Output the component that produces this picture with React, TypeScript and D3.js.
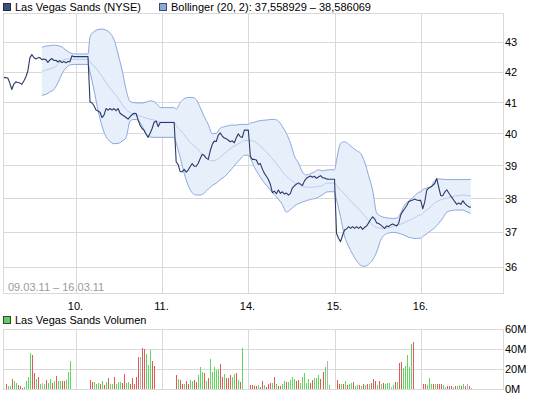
import React from "react";
import * as d3 from "d3";

const W = 545;
const H = 398;
const FONT = "'Liberation Sans', Arial, sans-serif";

// time axis: each trading day is split into 43 slots (~10 min each)
const SLOTS_PER_DAY = 43;
const X_DOMAIN = [6.6, 256.3]; // slot units (09.03 afternoon .. end of 16.03)
const TICK_DAYS = [1, 2, 3, 4, 5];
const TICK_LABELS = ["10.", "11.", "14.", "15.", "16."];
const Y_TICKS = [36, 37, 38, 39, 40, 41, 42, 43];
const Y_DOMAIN = [35.24, 43.98];
const VOL_TICKS = [0, 20, 40, 60];
const VOL_DOMAIN = [0, 60];

// ---------- price (close per slot) ----------
const PRICE_FIRST_SLOT = [7, 7, 7, 1, 1, 1];
const PRICE_09 = [41.82, 41.82, 41.81, 41.64, 41.43, 41.61, 41.68, 41.66, 41.64, 41.6, 41.71, 41.84, 42.04, 42.48, 42.59, 42.49, 42.44, 42.48, 42.49, 42.42, 42.44, 42.42, 42.33, 42.41, 42.46, 42.39, 42.4, 42.34, 42.39, 42.32, 42.36, 42.31, 42.36, 42.35, 42.55, 42.52];
const PRICE_10 = [41.03, 40.99, 40.9, 40.76, 40.73, 40.69, 40.52, 40.6, 40.81, 40.76, 40.81, 40.76, 40.81, 40.74, 40.81, 40.66, 40.61, 40.57, 40.52, 40.47, 40.55, 40.61, 40.66, 40.65, 40.45, 40.27, 40.17, 40.11, 39.99, 39.89, 40.02, 40.17, 40.37, 40.41, 40.23, 40.36];
const PRICE_11 = [39.12, 39.04, 38.82, 38.82, 38.89, 38.81, 38.87, 38.98, 39.07, 38.99, 38.99, 39.08, 39.23, 39.36, 39.32, 39.24, 39.2, 39.47, 39.67, 39.77, 39.76, 39.96, 40.03, 39.93, 39.87, 39.85, 39.8, 39.75, 39.78, 39.72, 39.88, 40.0, 39.91, 39.89, 40.12];
const PRICE_14 = [39.3, 39.2, 39.2, 39.18, 39.04, 39.07, 38.9, 38.77, 38.68, 38.58, 38.43, 38.18, 38.23, 38.15, 38.26, 38.16, 38.21, 38.14, 38.17, 38.11, 38.16, 38.33, 38.39, 38.44, 38.48, 38.44, 38.4, 38.54, 38.62, 38.66, 38.69, 38.65, 38.68, 38.62, 38.66, 38.7, 38.64, 38.63, 38.6, 38.59];
const PRICE_15 = [36.97, 36.83, 36.73, 36.91, 37.07, 37.1, 37.17, 37.12, 37.17, 37.12, 37.17, 37.12, 37.17, 37.09, 37.15, 37.19, 37.28, 37.38, 37.46, 37.4, 37.28, 37.26, 37.22, 37.17, 37.12, 37.19, 37.17, 37.22, 37.25, 37.22, 37.19, 37.27, 37.51, 37.62, 37.7, 37.79, 37.91, 37.94, 37.96, 37.99, 37.96, 37.95];
const PRICE_16 = [37.7, 37.9, 38.26, 38.32, 38.35, 38.4, 38.46, 38.61, 38.34, 38.09, 38.09, 38.2, 38.27, 38.17, 38.08, 38.0, 37.91, 37.83, 37.87, 37.83, 37.94, 37.86, 37.8, 37.76, 37.74];
const PRICE_DAYS = [PRICE_09, PRICE_10, PRICE_11, PRICE_14, PRICE_15, PRICE_16];

// ---------- Bollinger (20, 2), every second slot ----------
const BAND_FIRST_SLOT = [26, 7, 7, 1, 1, 1];
const UPPER_09 = [42.83, 42.88, 42.89, 42.91, 42.89, 42.85, 42.74, 42.65, 42.61];
const MIDDLE_09 = [42.03, 42.07, 42.11, 42.16, 42.26, 42.39, 42.44, 42.44, 42.43];
const LOWER_09 = [41.24, 41.27, 41.35, 41.43, 41.65, 41.94, 42.14, 42.24, 42.26];
const UPPER_10 = [43.19, 43.37, 43.44, 43.46, 43.42, 43.32, 43.1, 42.61, 42.07, 41.43, 41.04, 41.0, 40.99, 40.99, 41.02, 41.06, 41.03, 40.91, 40.84];
const MIDDLE_10 = [42.34, 42.21, 42.04, 41.86, 41.66, 41.48, 41.31, 41.15, 40.95, 40.78, 40.68, 40.62, 40.58, 40.55, 40.5, 40.47, 40.44, 40.39, 40.38];
const LOWER_10 = [42.01, 41.41, 40.76, 40.25, 39.91, 39.76, 39.69, 39.7, 39.77, 39.88, 40.41, 40.46, 40.44, 40.25, 40.01, 39.9, 39.89, 39.89, 39.89];
const UPPER_11 = [40.79, 41.0, 41.13, 41.17, 41.17, 41.1, 40.84, 40.55, 40.3, 40.01, 40.02, 40.18, 40.23, 40.26, 40.28, 40.28, 40.3, 40.3];
const MIDDLE_11 = [40.26, 40.12, 39.98, 39.8, 39.66, 39.57, 39.43, 39.3, 39.19, 39.16, 39.18, 39.27, 39.38, 39.49, 39.58, 39.65, 39.72, 39.79];
const LOWER_11 = [39.71, 39.26, 38.77, 38.4, 38.18, 38.11, 38.11, 38.17, 38.29, 38.4, 38.47, 38.58, 38.66, 38.79, 38.93, 39.08, 39.21, 39.33];
const UPPER_14 = [40.34, 40.37, 40.41, 40.43, 40.44, 40.46, 40.46, 40.41, 40.23, 40.01, 39.71, 39.3, 39.09, 38.81, 38.72, 38.76, 38.82, 38.88, 38.85, 38.87, 38.88];
const MIDDLE_14 = [39.79, 39.76, 39.68, 39.55, 39.43, 39.29, 39.15, 38.99, 38.82, 38.68, 38.58, 38.49, 38.43, 38.36, 38.35, 38.34, 38.35, 38.37, 38.4, 38.47, 38.47];
const LOWER_14 = [39.24, 38.96, 38.75, 38.56, 38.41, 38.26, 38.12, 37.99, 37.82, 37.6, 37.67, 37.78, 37.85, 37.9, 37.94, 37.98, 38.0, 38.05, 38.12, 38.2, 38.21];
const UPPER_15 = [39.18, 39.7, 39.75, 39.68, 39.57, 39.47, 39.39, 39.12, 38.7, 38.26, 37.58, 37.48, 37.44, 37.42, 37.41, 37.42, 37.57, 37.82, 37.93, 38.03, 38.14, 38.2];
const MIDDLE_15 = [38.4, 38.26, 38.14, 38.0, 37.88, 37.76, 37.63, 37.49, 37.35, 37.21, 37.15, 37.12, 37.12, 37.13, 37.17, 37.21, 37.24, 37.29, 37.35, 37.4, 37.47, 37.51];
const LOWER_15 = [37.96, 37.46, 36.89, 36.6, 36.37, 36.18, 36.05, 36.02, 36.08, 36.2, 36.43, 36.77, 36.93, 36.98, 37.0, 36.99, 36.96, 36.91, 36.86, 36.83, 36.82, 36.83];
const UPPER_16 = [38.27, 38.32, 38.36, 38.55, 38.6, 38.59, 38.58, 38.58, 38.58, 38.58, 38.58, 38.58, 38.586069];
const MIDDLE_16 = [37.57, 37.66, 37.76, 37.87, 37.94, 37.99, 38.02, 38.05, 38.08, 38.09, 38.11, 38.1, 38.08];
const LOWER_16 = [36.88, 36.96, 37.05, 37.14, 37.27, 37.42, 37.6, 37.64, 37.66, 37.66, 37.66, 37.61, 37.558929];
const UPPER_DAYS = [UPPER_09, UPPER_10, UPPER_11, UPPER_14, UPPER_15, UPPER_16];
const MIDDLE_DAYS = [MIDDLE_09, MIDDLE_10, MIDDLE_11, MIDDLE_14, MIDDLE_15, MIDDLE_16];
const LOWER_DAYS = [LOWER_09, LOWER_10, LOWER_11, LOWER_14, LOWER_15, LOWER_16];

// ---------- volume (millions), direction u=up d=down n=unchanged ----------
const VOL_FIRST_SLOT = [8, 7, 7, 1, 1, 1];
const VOL_09 = [5, 3, 3, 10, 8, 6, 4, 3, 1.3, 2, 8, 12, 36, 34, 16, 10, 12, 5, 6, 5, 9, 6, 10, 6, 8, 13, 8, 8, 8, 8, 9, 17, 28];
const DIR_09 = ("duuduuddd" + "uuuuddudu" + "nuduudud" + "uudduuu").split("");
const VOL_10 = [9, 7, 7, 5, 6, 5, 8, 4, 7, 11, 5, 5, 12, 5, 7, 7, 6, 15, 6, 7, 5, 11, 5, 12, 32, 32, 41, 40, 35, 24, 39, 28, 23];
const DIR_10 = ("dduuudud" + "uduuduuu" + "dduuddddd" + "ndduuudd").split("");
const VOL_11 = [14, 10, 9, 5, 5, 8, 5, 9, 8, 9, 7, 14, 22, 17, 16, 8, 11, 30, 17, 22, 19, 20, 25, 12, 15, 11, 11, 14, 12, 15, 16, 9, 7, 41];
const DIR_11 = ("dudduddu" + "udduuudu" + "duuuuudd" + "uddduududu").split("");
const VOL_14 = [4, 4, 3, 3, 4, 2, 8, 4, 2, 5, 6, 6, 12, 5, 3, 3, 5, 8, 7, 7, 9, 12, 10, 8, 9, 6, 12, 16, 6, 10, 6, 9, 11, 11, 14, 10, 17, 22, 28, 4];
const DIR_14 = ("dddduddu" + "dddududd" + "uuduuuud" + "duuuuudd" + "uuuddunu").split("");
const VOL_15 = [9, 5, 5, 5, 8, 4, 5, 6, 7, 3, 4, 4, 3, 5, 4, 5, 5, 6, 10, 8, 4, 8, 5, 6, 5, 6, 6, 2, 4, 7, 7, 26, 27, 21, 23, 34, 22, 45, 47];
const DIR_15 = ("ddududuu" + "duududud" + "udddudud" + "uuunudud" + "duuuuud").split("");
const VOL_16 = [5, 5, 4, 11, 5, 5, 5, 5, 5, 5, 4, 2, 3, 3, 3, 2, 3, 3, 4, 3, 5, 3, 5, 3, 1];
const DIR_16 = ("dduuudud" + "ddundddn" + "duududndu").split("");
const VOL_DAYS = [VOL_09, VOL_10, VOL_11, VOL_14, VOL_15, VOL_16];
const DIR_DAYS = [DIR_09, DIR_10, DIR_11, DIR_14, DIR_15, DIR_16];

const TITLE_PRICE = "Las Vegas Sands (NYSE)";
const TITLE_BB = "Bollinger (20, 2): 37,558929 \u2013 38,586069";
const TITLE_VOL = "Las Vegas Sands Volumen";
const RANGE_LABEL = "09.03.11 \u2013 16.03.11";

const C = {
  grid: "#d9d9d9",
  price: "#2a3a66",
  bandEdge: "#8ba8de",
  bandFill: "#e7effb",
  middle: "#b7ccf1",
  up: "#5fd85f",
  down: "#e05a5a",
  flat: "#b4b4b4",
  text: "#000000",
  gray: "#9a9a9a",
};

const P = { left: 3, right: 503, top: 13, bottom: 293 };
const V = { top: 329, bottom: 389 };

const slotT = (d: number, s: number) => d * SLOTS_PER_DAY + s;

function priceSeries() {
  const pts: { t: number; v: number }[] = [];
  PRICE_DAYS.forEach((vals, d) => {
    const first = PRICE_FIRST_SLOT[d];
    if (pts.length) pts.push({ t: slotT(d, first - 1), v: pts[pts.length - 1].v });
    vals.forEach((v, i) => pts.push({ t: slotT(d, first + i), v }));
  });
  return pts;
}

function bandSeries() {
  const pts: { t: number; u: number; m: number; l: number }[] = [];
  UPPER_DAYS.forEach((up, d) => {
    const first = BAND_FIRST_SLOT[d];
    const last = PRICE_FIRST_SLOT[d] + PRICE_DAYS[d].length - 1;
    const slots = d3.range(first, last + 1, 2);
    if (slots[slots.length - 1] !== last) slots.push(last);
    if (pts.length) {
      const p = pts[pts.length - 1];
      pts.push({ t: slotT(d, first - 1), u: p.u, m: p.m, l: p.l });
    }
    slots.forEach((s, i) =>
      pts.push({ t: slotT(d, s), u: up[i], m: MIDDLE_DAYS[d][i], l: LOWER_DAYS[d][i] })
    );
  });
  return pts;
}

function volumeSeries() {
  const bars: { t: number; v: number; dir: string }[] = [];
  VOL_DAYS.forEach((vals, d) => {
    vals.forEach((v, i) =>
      bars.push({ t: slotT(d, VOL_FIRST_SLOT[d] + i), v, dir: DIR_DAYS[d][i] || "u" })
    );
  });
  return bars;
}

export default function App() {
  const x = d3.scaleLinear().domain(X_DOMAIN).range([P.left, P.right + 0.5]);
  const y = d3.scaleLog().domain(Y_DOMAIN).range([P.bottom + 1, P.top + 1]);
  const yv = d3.scaleLinear().domain(VOL_DOMAIN).range([V.bottom, V.top]);

  const prices = priceSeries();
  const bands = bandSeries();
  const vols = volumeSeries();

  const area = d3
    .area<any>()
    .x((d) => x(d.t))
    .y0((d) => y(d.l))
    .y1((d) => y(d.u))
    .curve(d3.curveMonotoneX);
  const lineU = d3.line<any>().x((d) => x(d.t)).y((d) => y(d.u)).curve(d3.curveMonotoneX);
  const lineL = d3.line<any>().x((d) => x(d.t)).y((d) => y(d.l)).curve(d3.curveMonotoneX);
  const lineM = d3.line<any>().x((d) => x(d.t)).y((d) => y(d.m)).curve(d3.curveMonotoneX);
  const lineP = d3.line<any>().x((d) => x(d.t)).y((d) => y(d.v));

  const gx = (d: number) => Math.round(x(slotT(d, 0))) + 0.5;
  const gy = (v: number) => Math.floor(y(v)) + 0.5;
  const gvy = (v: number) => Math.round(yv(v)) + 0.5;
  const colorOf = (dir: string) => (dir === "d" ? C.down : dir === "n" ? C.flat : C.up);

  return (
    <svg
      width={W}
      height={H}
      style={{ position: "absolute", left: 0, top: 0, background: "#fff" }}
      fontFamily={FONT}
      fontSize={11}
    >
      <defs>
        <clipPath id="mainClip">
          <rect x={P.left + 1} y={P.top + 1} width={P.right - P.left - 1} height={P.bottom - P.top - 1} />
        </clipPath>
      </defs>

      {/* legend */}
      <rect x={3.5} y={3.5} width={7} height={7} fill="#3d5080" stroke="#1e2b4d" />
      <text x={15} y={11} fill={C.text}>{TITLE_PRICE}</text>
      <rect x={159.5} y={3.5} width={7} height={7} fill="#8ea8dc" stroke="#3a4a70" />
      <text x={171} y={11} fill={C.text}>{TITLE_BB}</text>

      {/* main grid */}
      {Y_TICKS.map((v) => (
        <line key={"gy" + v} x1={P.left} x2={P.right} y1={gy(v)} y2={gy(v)} stroke={C.grid} />
      ))}
      {TICK_DAYS.map((d) => (
        <line key={"gx" + d} x1={gx(d)} x2={gx(d)} y1={P.top} y2={P.bottom} stroke={C.grid} />
      ))}
      <rect x={P.left + 0.5} y={P.top + 0.5} width={P.right - P.left} height={P.bottom - P.top} fill="none" stroke={C.grid} />

      <g clipPath="url(#mainClip)">
        <path d={area(bands) || ""} fill={C.bandFill} />
        <path d={lineM(bands) || ""} fill="none" stroke={C.middle} strokeWidth={1} />
        <path d={lineU(bands) || ""} fill="none" stroke={C.bandEdge} strokeWidth={1} />
        <path d={lineL(bands) || ""} fill="none" stroke={C.bandEdge} strokeWidth={1} />
        <path d={lineP(prices) || ""} fill="none" stroke={C.price} strokeWidth={1.1} strokeLinejoin="round" />
      </g>

      <text x={8} y={291} fill={C.gray}>{RANGE_LABEL}</text>

      {/* y axis labels */}
      {Y_TICKS.map((v) => (
        <text key={"yl" + v} x={505} y={y(v) + 4} fill={C.text}>{v}</text>
      ))}
      {/* x axis labels */}
      {TICK_DAYS.map((d, i) => (
        <text key={"xl" + d} x={gx(d) - 1} y={310} textAnchor="middle" fill={C.text}>{TICK_LABELS[i]}</text>
      ))}

      {/* volume */}
      <rect x={3.5} y={316.5} width={7} height={7} fill="#66cc66" stroke="#2a4a2a" />
      <text x={15} y={324} fill={C.text}>{TITLE_VOL}</text>
      {VOL_TICKS.slice(1, -1).map((v) => (
        <line key={"vg" + v} x1={P.left} x2={P.right} y1={gvy(v)} y2={gvy(v)} stroke={C.grid} />
      ))}
      {TICK_DAYS.map((d) => (
        <line key={"vx" + d} x1={gx(d)} x2={gx(d)} y1={V.top} y2={V.bottom} stroke={C.grid} />
      ))}
      <rect x={P.left + 0.5} y={V.top + 0.5} width={P.right - P.left} height={V.bottom - V.top} fill="none" stroke={C.grid} />
      {vols.map((b, i) => {
        const top = Math.round(yv(b.v));
        return (
          <rect
            key={"vb" + i}
            x={Math.round(x(b.t))}
            y={top}
            width={1}
            height={Math.max(1, V.bottom - top)}
            fill={colorOf(b.dir)}
          />
        );
      })}
      {VOL_TICKS.map((v) => (
        <text key={"vl" + v} x={505} y={yv(v) + 4} fill={C.text}>{v + "M"}</text>
      ))}
    </svg>
  );
}
